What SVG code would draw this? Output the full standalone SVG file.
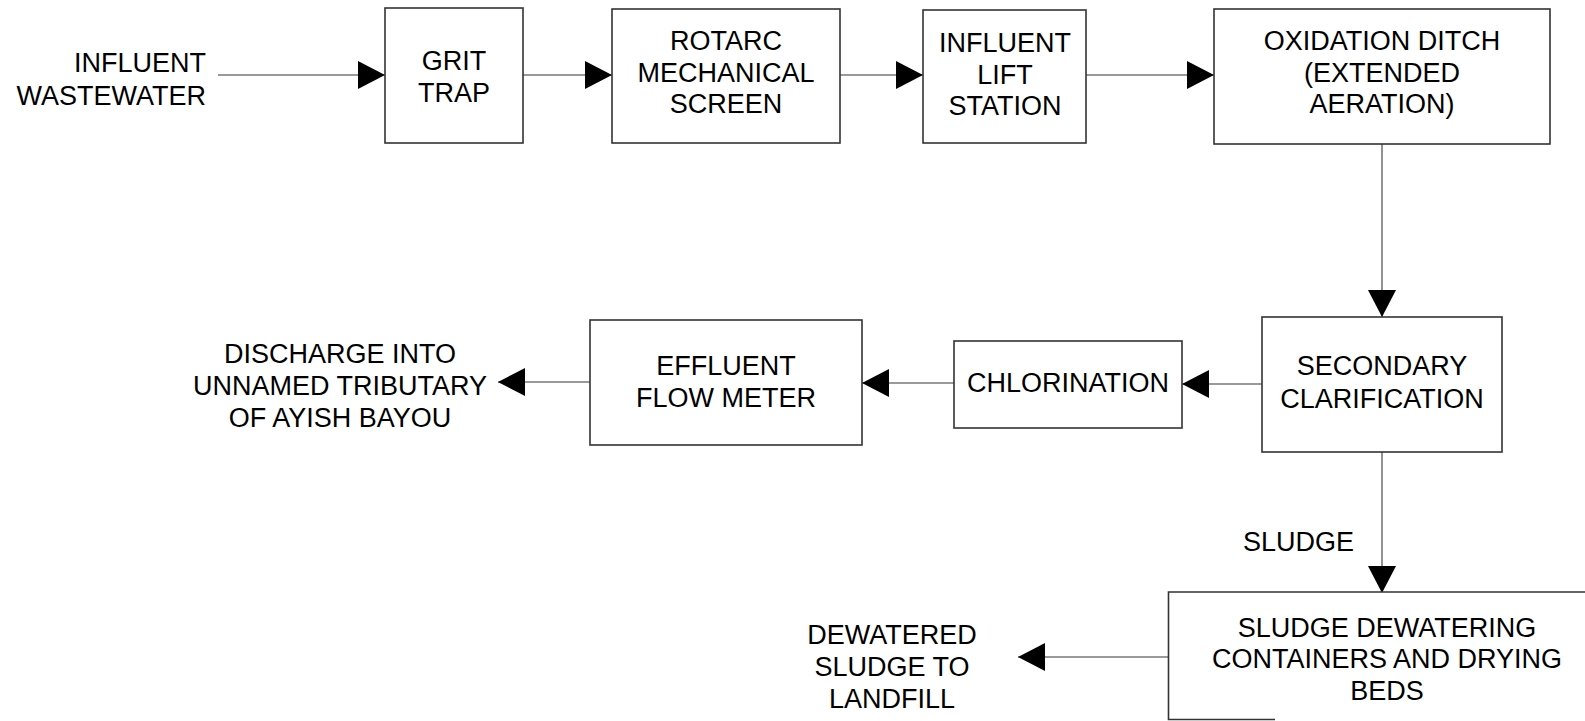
<svg xmlns="http://www.w3.org/2000/svg" width="1585" height="721" viewBox="0 0 1585 721">
<style>
.box{fill:#fff;stroke:#333;stroke-width:1.6}
.t{font-family:"Liberation Sans",Arial,sans-serif;font-size:27px;fill:#000;text-anchor:middle}
.c{fill:none;stroke:#777;stroke-width:1.6}
</style>
<defs>
<marker id="ah" markerUnits="userSpaceOnUse" markerWidth="28" markerHeight="30" refX="27" refY="14" orient="auto">
<path d="M0,0 L27,14 L0,28 z" fill="#000"/>
</marker>
</defs>
<rect width="1585" height="721" fill="#fff"/>
<g id="connectors">
<line class="c" x1="218" y1="75" x2="385" y2="75" marker-end="url(#ah)"/>
<line class="c" x1="523" y1="75" x2="612" y2="75" marker-end="url(#ah)"/>
<line class="c" x1="840" y1="75" x2="923" y2="75" marker-end="url(#ah)"/>
<line class="c" x1="1086" y1="75" x2="1214" y2="75" marker-end="url(#ah)"/>
<line class="c" x1="1382" y1="144" x2="1382" y2="317" marker-end="url(#ah)"/>
<line class="c" x1="1262" y1="384" x2="1182" y2="384" marker-end="url(#ah)"/>
<line class="c" x1="954" y1="383" x2="862" y2="383" marker-end="url(#ah)"/>
<line class="c" x1="590" y1="382" x2="498" y2="382" marker-end="url(#ah)"/>
<line class="c" x1="1382" y1="452" x2="1382" y2="593" marker-end="url(#ah)"/>
<line class="c" x1="1168" y1="657" x2="1018" y2="657" marker-end="url(#ah)"/>
</g>
<g id="influent">
<text class="t" style="text-anchor:end" x="206" y="71.5">INFLUENT</text>
<text class="t" style="text-anchor:end" x="206" y="104.5">WASTEWATER</text>
</g>
<g id="grit">
<rect class="box" x="385" y="8" width="138" height="135"/>
<text class="t" x="454" y="70">GRIT</text>
<text class="t" x="454" y="102">TRAP</text>
</g>
<g id="rotarc">
<rect class="box" x="612" y="9" width="228" height="134"/>
<text class="t" x="726" y="50">ROTARC</text>
<text class="t" x="726" y="82">MECHANICAL</text>
<text class="t" x="726" y="113">SCREEN</text>
</g>
<g id="lift">
<rect class="box" x="923" y="10" width="163" height="133"/>
<text class="t" x="1005" y="52">INFLUENT</text>
<text class="t" x="1005" y="84">LIFT</text>
<text class="t" x="1005" y="115">STATION</text>
</g>
<g id="oxidation">
<rect class="box" x="1214" y="9" width="336" height="135"/>
<text class="t" x="1382" y="50">OXIDATION DITCH</text>
<text class="t" x="1382" y="82">(EXTENDED</text>
<text class="t" x="1382" y="113">AERATION)</text>
</g>
<g id="secondary">
<rect class="box" x="1262" y="317" width="240" height="135"/>
<text class="t" x="1382" y="375">SECONDARY</text>
<text class="t" x="1382" y="408">CLARIFICATION</text>
</g>
<g id="chlorination">
<rect class="box" x="954" y="341" width="228" height="87"/>
<text class="t" x="1068" y="392">CHLORINATION</text>
</g>
<g id="effluent">
<rect class="box" x="590" y="320" width="272" height="125"/>
<text class="t" x="726" y="375">EFFLUENT</text>
<text class="t" x="726" y="407">FLOW METER</text>
</g>
<g id="discharge">
<text class="t" x="340" y="363">DISCHARGE INTO</text>
<text class="t" x="340" y="395">UNNAMED TRIBUTARY</text>
<text class="t" x="340" y="427">OF AYISH BAYOU</text>
</g>
<g id="sludge-label">
<text class="t" style="text-anchor:start" x="1243" y="551">SLUDGE</text>
</g>
<g id="dewatering">
<path class="box" d="M1275,719.5 H1168.5 V592 H1590"/>
<text class="t" x="1387" y="637">SLUDGE DEWATERING</text>
<text class="t" x="1387" y="668">CONTAINERS AND DRYING</text>
<text class="t" x="1387" y="700">BEDS</text>
</g>
<g id="landfill">
<text class="t" x="892" y="644">DEWATERED</text>
<text class="t" x="892" y="676">SLUDGE TO</text>
<text class="t" x="892" y="708">LANDFILL</text>
</g>
</svg>
